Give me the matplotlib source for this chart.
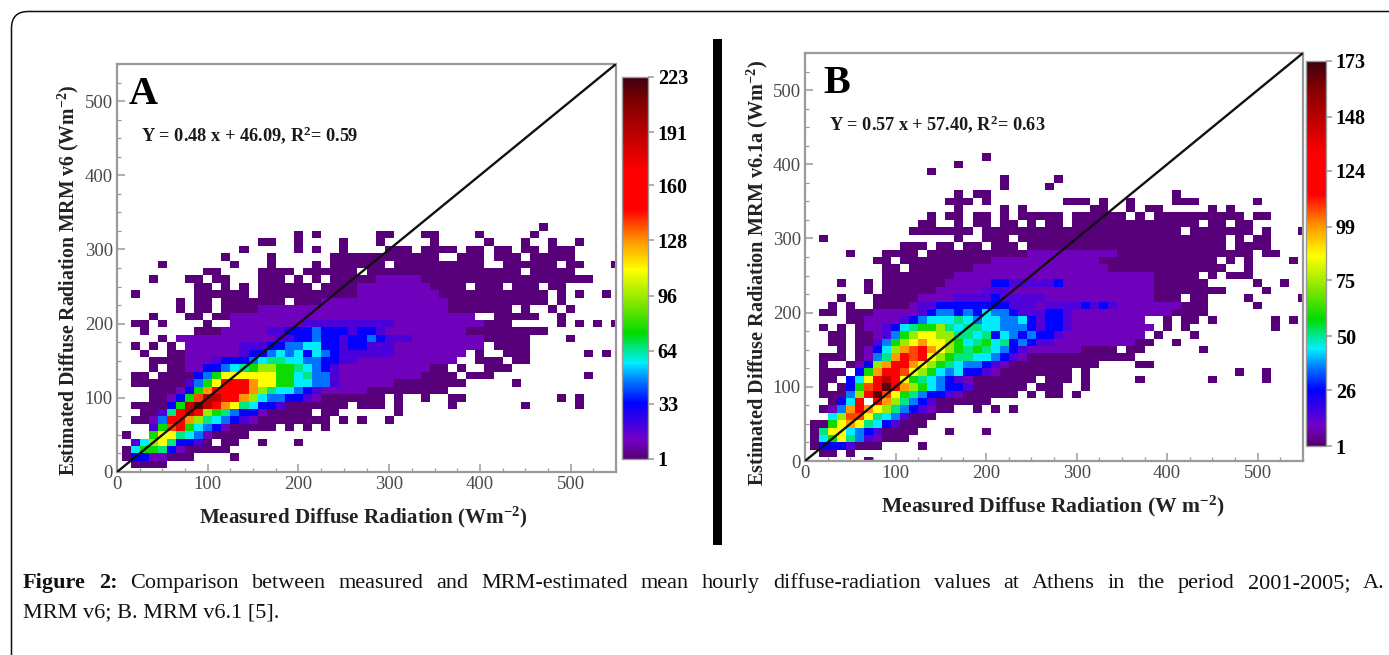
import re

import numpy as np
import matplotlib
matplotlib.use("Agg")
import matplotlib.pyplot as plt
from matplotlib.colors import LinearSegmentedColormap, Normalize
from matplotlib.patches import FancyBboxPatch, Rectangle
from matplotlib.ticker import MultipleLocator

plt.rcParams['font.family'] = ['Liberation Serif', 'DejaVu Serif']
plt.rcParams['mathtext.fontset'] = 'custom'
plt.rcParams['mathtext.rm'] = 'Liberation Serif:bold'
plt.rcParams['mathtext.bf'] = 'Liberation Serif:bold'
plt.rcParams['mathtext.default'] = 'rm'

# count read for each colour step seen in the cells
levels_a = dict(a=2, b=11, c=20, d=33, e=46, f=57, g=66, h=76, i=95, j=111, k=128, l=138, m=150, n=190, o=215)
levels_b = dict(a=2, b=9, c=15, d=26, e=36, f=44, g=51, h=59, i=74, j=86, k=99, l=107, m=116, n=147, o=167)

# row = y bin (10 W/m2 steps), "first-lastLEVEL" = x bins in that row
rows_a = {
    1: "2-5a",
    2: "1a 2-3d 4-5b 6-8a 13a",
    3: "1a 2f 3h 4h 5g 6d 7b 8-12a",
    4: "2c 3f 4i 5j 6g 7d 8d 9c 10a 12-13a 16a 20a",
    5: "1a 4h 5j 6j 7g 8f 9e 10b 11-14a",
    6: "4c 5h 6l 7m 8h 9f 10e 11d 12b 13-17a 19a 21a 23a",
    7: "2-3a 4b 5e 6m 7m 8k 9i 10g 11f 12e 13d 14c 15b 16-23a 25a 27a 30a",
    8: "3-4a 5c 6g 7m 8n 9m 10i 11h 12g 13e 14d 15d 16b 17-21a 23-24a 31a",
    9: "2-5a 6d 7h 8n 9o 10n 11m 12k 13j 14g 15f 16d 17d 18c 19-25a 27-29a 31a 37a 45a 51a",
    10: "4-5a 6b 7d 8h 9l 10n 11n 12m 13m 14k 15i 16f 17e 18e 19d 20d 21c 22b 23-29a 31a 34a 37-38a 49a 51a",
    11: "4-6a 7b 8d 9h 10k 11m 12m 13m 14m 15k 16i 17g 18f 19f 20e 21d 22c 23-27b 28-36a",
    12: "2-7a 8c 9e 10h 11j 12m 13m 14m 15k 16j 17j 18h 19h 20f 21f 22e 23e 24c 25-30b 31-38a 44a",
    13: "2-3a 5-8a 9d 10e 11h 12j 13j 14j 15j 16j 17j 18h 19h 20f 21g 22e 23e 24c 25-33b 34-37a 39-41a 52a",
    14: "4a 6-7a 8-9b 10d 11d 12e 13f 14g 15h 16i 17i 18h 19h 20g 21f 22e 23d 24c 25-34b 35-36a 38a 41-43a",
    15: "4-7a 8-9b 10b 11c 12d 13d 14d 15e 16f 17g 18g 19f 20f 21e 22e 23d 24d 25c 26c 27-37b 40-42a 44-45a",
    16: "3a 6-7a 8-13b 14c 15d 16d 17e 18f 19e 20f 21d 22f 23e 24d 25c 26c 27-30c 31-38b 40a 43-45a 52a 54a",
    17: "2a 4a 6a 8-13b 14c 15c 16c 17d 18d 19e 20e 21f 22f 23d 24d 25c 26d 27d 28c 29-30c 31-40b 42-45a",
    18: "5a 7-17b 18c 19c 20d 21d 22e 23d 24d 25c 26d 27d 28e 29d 30-32c 33-40b 41-45a 50a",
    19: "3a 9-11a 12-16b 17c 18c 19d 20d 21d 22e 23d 24d 25d 26c 27d 28d 29c 30-38b 39-47a",
    20: "2-3a 5a 10a 13-20b 21-26c 27-30c 31-40b 41-43a 49a 51a 53a 55a",
    21: "4a 8-9a 11-12a 13-39b 42-46a 49a",
    22: "7a 9-10a 12-15a 16-36b 37-43a 45a 48a 50a",
    23: "7a 9-10a 12-18a 20-22a 23-36b 37-47a 49a",
    24: "2a 9-14a 16-26a 27-35b 36-47a 49a 51a 54a",
    25: "9-10a 12a 14a 16-21a 23-26a 27-34b 35-38a 40-42a 44-46a 48-49a",
    26: "4a 8-9a 11-12a 16-18a 20a 22a 24-28a 29-33b 34-52a",
    27: "10-11a 16-19a 21-26a 28-44a 46-50a",
    28: "5a 13a 17a 22a 24-29a 31-40a 43-48a 50-51a 55a",
    29: "12a 17a 24-35a 38-40a 42-44a 46-50a",
    30: "14a 20a 22a 25a 30-32a 34-37a 39-40a 42-43a 45-46a 48-50a",
    31: "16-17a 20a 25a 29a 35a 41a 45a 48a 51a",
    32: "20a 22a 29-30a 34-35a 40a 46a",
    33: "47a",
}

rows_b = {
    0: "7a",
    1: "2-3a 5a",
    2: "1a 2-4d 5c 6-8a 13a",
    3: "1a 2f 3h 4j 5g 6e 7c 8b 9-11a",
    4: "1a 2g 3j 4j 5f 6e 7d 8c 9-12a 16a 20a",
    5: "1-2a 3h 4j 5k 6j 7g 8f 9d 10c 11-13a",
    6: "3f 4i 5l 6l 7j 8g 9f 10e 11c 12-14a",
    7: "2a 3b 4e 5k 6m 7k 8j 9i 10g 11e 12d 13c 14b 15-16a 19a 21a 23a",
    8: "3a 4d 5f 6m 8m 9k 10i 11g 12e 13d 14c 15-20a",
    9: "2-4a 5e 6i 7m 8o 9l 10j 11h 12g 13e 14d 15d 16c 17b 18-23a 25a 27-28a 30a",
    10: "2a 4a 5d 6h 7l 8m 9o 10m 11k 12i 13h 14f 15e 16d 17d 18c 19-24a 26-28a 31a",
    11: "2-3a 5d 6f 7j 8m 9n 10m 11j 12h 13g 14f 15e 16d 17c 18b 19-25a 27-29a 31a 37a 45a 51a",
    12: "2-4a 6d 7h 8k 9m 10m 11l 12j 13i 14h 15f 16e 17f 18d 19d 20c 21b 22-29a 31a 48a 51a",
    13: "2a 5a 6b 7d 8i 9k 10m 11m 12k 13j 14i 15h 16g 17f 18e 19e 20d 21c 22b 23-32a 37-38a",
    14: "2-4a 6a 7b 8e 9g 10k 11m 12l 13m 14j 15i 16h 17g 18g 19f 20f 21e 22d 23c 24b 25-36a",
    15: "4a 6a 7b 8d 9f 10i 11k 12l 13m 14k 15j 16i 17h 18g 19h 20g 21f 22e 23d 24c 25-30b 31-34a 36-37a 44a",
    16: "3-4a 6-7a 8c 9e 10h 11i 12j 13k 14j 15j 16i 17h 18f 19g 20h 21f 22g 23d 24e 25d 26c 27c 28-36b 37-38a 41a",
    17: "3-4a 6-7a 8b 9c 10e 11h 12i 13j 14j 15i 16i 17g 18g 19f 20g 21d 22f 23e 24d 25e 26d 27d 28c 29-37b 39a 43a",
    18: "2a 4a 6a 7-8b 9c 10d 11f 12g 13h 14h 15i 16g 17f 18g 19g 20f 21f 22e 23e 24e 25d 26c 27d 28d 29c 30-38b 40a 42a 52a",
    19: "5-6a 7-10b 11c 12d 13e 14f 15f 16f 17g 18f 19e 20f 21f 22e 23e 24f 25d 26c 27d 28d 29c 30-37b 40a 42-43a 45a 52a 54a",
    20: "2-3a 5-7a 8-12b 13c 14d 15e 16e 17d 18e 19d 20f 21e 22e 23d 24c 25c 26c 27d 28d 29c 30-40b 41-44a",
    21: "3a 5a 8-11a 12b 13c 14c 15d 16d 17d 18d 19d 20d 21d 22d 23c 24c 25c 26b 27c 28c 29c 30c 31d 32c 33d 34c 35-41b 42-44a 50a",
    22: "4a 8-12a 13-16b 17-20c 21d 22-26c 27-38b 39-41a 43-44a 49a 55a",
    23: "7a 9-14a 15-19b 20-22c 23-38b 39-46a 51a",
    24: "4a 7a 9-15a 16-20b 21-22d 23-27c 28d 29-38b 39-44a 50a 53a",
    25: "9-16a 17-38b 39-43a 45a 47-49a",
    26: "9-10a 12-18a 19-33b 34-46a 49a",
    27: "8-9a 11-20a 21-32b 33-45a 47a 49a 54a",
    28: "5a 9-12a 14-24a 25-34b 35-49a 51-52a",
    29: "11-13a 15-16a 18-19a 21-23a 25-46a 48-51a",
    30: "2a 17a 20-22a 24-46a 48a 50-51a",
    31: "12-18a 20-41a 43-49a 51a 55a",
    32: "13-14a 17a 19-20a 22-23a 25a 27-28a 30-43a 45-46a 48-49a",
    33: "14a 16-17a 19-20a 22a 24a 25-28a 30-35a 37a 39-48a 50-51a",
    34: "17a 22a 24a 32-33a 36a 38-39a 45a 47a",
    35: "16-18a 20a 29-31a 33a 36a 41-43a 50a",
    36: "17a 19-20a 41a",
    37: "22a 27a",
    38: "22a 28a",
    39: "14a",
    40: "17a",
    41: "20a",
}

ticks_a = [1, 33, 64, 96, 128, 160, 191, 223]
ticks_b = [1, 26, 50, 75, 99, 124, 148, 173]

rainbow = LinearSegmentedColormap.from_list("rb", [
    (0.0, (0.33, 0.0, 0.45)),
    (0.05, (0.45, 0.0, 0.78)),
    (0.144, (0.0, 0.0, 1.0)),
    (0.198, (0.0, 0.43, 1.0)),
    (0.252, (0.0, 0.94, 1.0)),
    (0.329, (0.0, 0.86, 0.0)),
    (0.401, (0.47, 0.9, 0.0)),
    (0.495, (1.0, 1.0, 0.0)),
    (0.572, (1.0, 0.59, 0.0)),
    (0.653, (1.0, 0.0, 0.0)),
    (0.757, (1.0, 0.0, 0.0)),
    (0.932, (0.51, 0.0, 0.0)),
    (1.0, (0.24, 0.0, 0.06)),
])
rainbow.set_bad("white")

W, H = 1389, 655
GREY = "#9a9a9a"


def grid_from_rows(rows, levels):
    grid = np.full((56, 56), np.nan)
    for k, text in rows.items():
        for first, last, code in re.findall(r"(\d+)(?:-(\d+))?([a-o])", text):
            last = last or first
            grid[k, int(first):int(last) + 1] = levels[code]
    return np.ma.masked_invalid(grid)


def px_axes(left, top, right, bottom):
    return fig.add_axes([left / W, 1 - bottom / H, (right - left) / W, (bottom - top) / H])


def draw_panel(box, cbox, rows, levels, ticks, ylabel, xlabel, letter, letter_x, equation,
               ylab_xy, ylab_size, xlab_xy, xlab_size):
    ax = px_axes(*box)
    edges = np.arange(57) * 10 - 5
    mesh = ax.pcolormesh(edges, edges, grid_from_rows(rows, levels), cmap=rainbow,
                         norm=Normalize(1, ticks[-1]), antialiased=False, linewidth=0)
    ax.plot([0, 550], [0, 550], color="#111111", lw=1.7, zorder=5)
    ax.set_xlim(0, 550)
    ax.set_ylim(0, 550)
    for a in (ax.xaxis, ax.yaxis):
        a.set_major_locator(MultipleLocator(100))
        a.set_minor_locator(MultipleLocator(25))
    ax.tick_params(which="major", direction="in", length=6, width=1.1, color=GREY,
                   labelsize=13.5, labelcolor="#4a4a4a", pad=3)
    ax.tick_params(which="minor", direction="in", length=3, width=0.9, color=GREY)
    for s in ax.spines.values():
        s.set_color(GREY)
        s.set_linewidth(1.6)
    ax.text(letter_x, 0.97, letter, transform=ax.transAxes, fontsize=29, fontweight="bold",
            va="top", ha="left", color="black", zorder=6)
    ax.text(0.048, 0.826, equation, transform=ax.transAxes, fontsize=13.2, fontweight="bold",
            va="center", ha="left", color="#1a1a1a")
    fig.text(ylab_xy[0] / W, 1 - ylab_xy[1] / H, ylabel, rotation=90, fontsize=ylab_size,
             fontweight="bold", ha="center", va="center", color="#222222")
    fig.text(xlab_xy[0] / W, 1 - xlab_xy[1] / H, xlabel, fontsize=xlab_size,
             fontweight="bold", ha="center", va="center", color="#222222")

    cax = px_axes(*cbox)
    cb = fig.colorbar(mesh, cax=cax, ticks=ticks)
    cb.ax.tick_params(length=4, width=1.1, color=GREY, labelsize=14.5, pad=3)
    for lab in cb.ax.get_yticklabels():
        lab.set_fontweight("bold")
    cb.outline.set_edgecolor(GREY)
    cb.outline.set_linewidth(1.0)


fig = plt.figure(figsize=(W / 100, H / 100), dpi=100, facecolor="white")

# card border, open past the right and bottom edges of the page
fig.add_artist(FancyBboxPatch((11.5 / W, 1 - 700 / H), 1450 / W, 688.5 / H,
                              boxstyle="round,pad=0,rounding_size=0.012", mutation_aspect=W / H,
                              transform=fig.transFigure, fc="none", ec="#111111", lw=1.1))

draw_panel((117, 64, 616, 472), (622, 77, 648, 459), rows_a, levels_a, ticks_a,
           "Estimated Diffuse Radiation MRM v6 (Wm$^{-2}$)",
           "Measured Diffuse Radiation (Wm$^{-2}$)", "A", 0.024,
           "Y = 0.48 x + 46.09, R$^{2}$= 0.59", (68, 280), 14.2, (363, 517), 15.1)
draw_panel((805, 53, 1303, 461), (1306, 61, 1326, 446), rows_b, levels_b, ticks_b,
           "Estimated Diffuse Radiation MRM v6.1a (Wm$^{-2}$)",
           "Measured Diffuse Radiation (W m$^{-2}$)", "B", 0.036,
           "Y = 0.57 x + 57.40, R$^{2}$= 0.63", (757, 273), 14.6, (1053, 506), 15.6)

# black divider between panels
fig.add_artist(Rectangle((713 / W, 1 - 545 / H), 9 / W, 506 / H, transform=fig.transFigure,
                         fc="black", ec="none"))

# justified caption
caption_1 = ("Comparison between measured and MRM-estimated mean hourly diffuse-radiation "
             "values at Athens in the period 2001-2005; A.")
caption_2 = "MRM v6; B. MRM v6.1 [5]."
CAP_SIZE = 16
left_x, right_x = 23, 1385
fig.canvas.draw()
rend = fig.canvas.get_renderer()
words = [("Figure", "bold"), ("2:", "bold")] + [(w, "normal") for w in caption_1.split()]
arts = [fig.text(0, 1 - 588 / H, w, fontsize=CAP_SIZE, fontweight=wt, color="#111111", va="baseline")
        for w, wt in words]
widths = [t.get_window_extent(rend).width for t in arts]
gap = (right_x - left_x - sum(widths)) / (len(arts) - 1)
x = left_x
for t, w in zip(arts, widths):
    t.set_x(x / W)
    x += w + gap
fig.text(left_x / W, 1 - 617 / H, caption_2, fontsize=CAP_SIZE, color="#111111", va="baseline")

fig.savefig("out.png", dpi=100)
